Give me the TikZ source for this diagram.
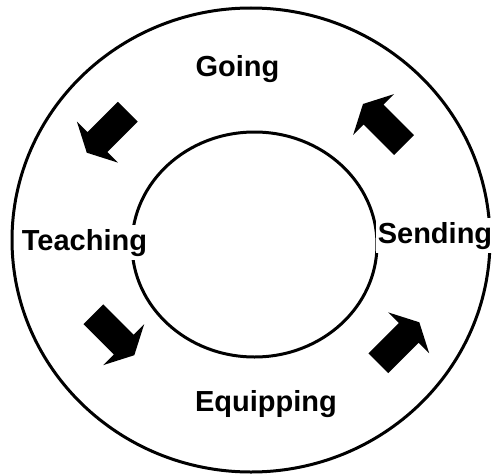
\documentclass[tikz,border=0pt]{standalone}
\usepackage{fontspec}
\setmainfont{Liberation Sans}
\begin{document}
\begin{tikzpicture}[x=1pt,y=1pt,
  ring/.style={line width=3pt},
  label/.style={font=\fontsize{29}{31}\selectfont\bfseries, fill=white, inner xsep=2pt, inner ysep=4pt, anchor=base},
  blockarrow/.pic={\fill[black] (0,-14) -- (43,-14) -- (43,-29) -- (58,0) -- (43,29) -- (43,14) -- (0,14) -- cycle;}
]
\useasboundingbox (0,0) rectangle (495,475);
\draw[ring] (251,235) ellipse [x radius=239, y radius=232];
\draw[ring] (254.5,230.5) ellipse [x radius=122.5, y radius=112.5];
\node[label] (going) at (237.5,399) {Going};
\node[label] (equipping) at (266,64) {Equipping};
\node[label] (teaching) at (84.5,225) {Teaching};
\node[label] (sending) at (435,232) {Sending};
\pic (a1) at (127.8,363.3) [rotate=225] {blockarrow};
\pic (a2) at (404,330) [rotate=135] {blockarrow};
\pic (a3) at (93.3,160.8) [rotate=-45] {blockarrow};
\pic (a4) at (378.3,111.7) [rotate=45] {blockarrow};
\end{tikzpicture}
\end{document}
